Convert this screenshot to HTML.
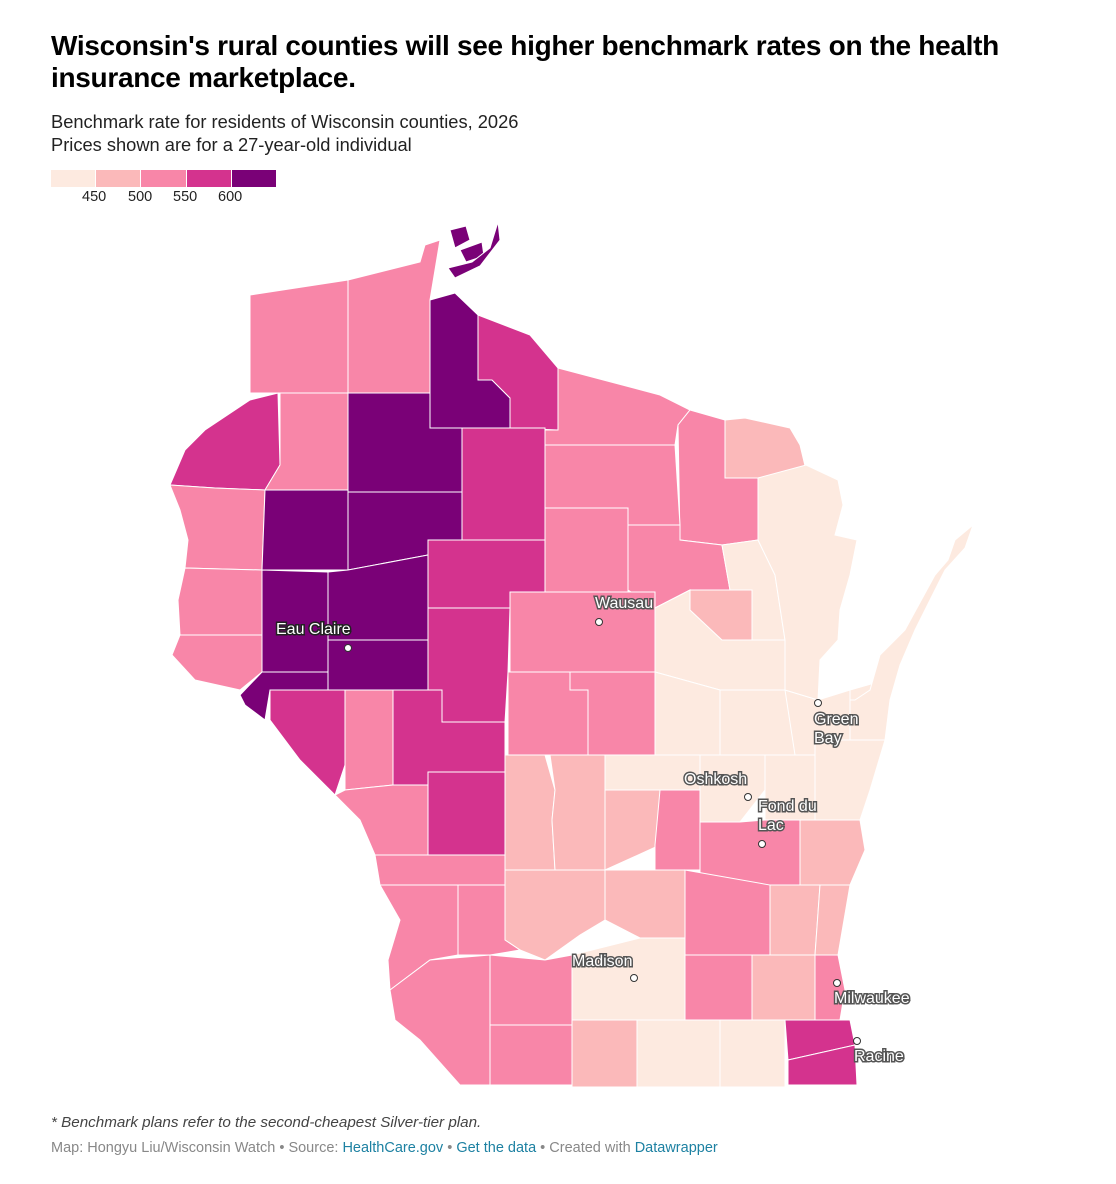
<!DOCTYPE html>
<html><head><meta charset="utf-8">
<style>
body{margin:0;background:#fff;font-family:"Liberation Sans",sans-serif;}
#wrap{position:relative;width:1116px;height:1184px;overflow:hidden;}
h1{position:absolute;left:51px;top:30px;margin:0;font-size:28px;line-height:32px;font-weight:bold;color:#000;width:1040px;letter-spacing:-0.3px}
.sub{position:absolute;left:51px;font-size:18.3px;color:#222}
.lt{position:absolute;top:189px;font-size:14.5px;color:#222}
.note{position:absolute;left:51px;top:1114px;font-size:15.2px;font-style:italic;color:#444}
.src{position:absolute;left:51px;top:1140px;font-size:14.5px;color:#888}
.src a{color:#1d81a2;text-decoration:none}
svg{position:absolute;left:0;top:0}
.city{font-size:16px;fill:#fff;stroke:#555;stroke-width:3px;paint-order:stroke;font-family:"Liberation Sans",sans-serif}
</style></head><body>
<div id="wrap">
<h1>Wisconsin's rural counties will see higher benchmark rates on the health insurance marketplace.</h1>
<div class="sub" style="top:111px">Benchmark rate for residents of Wisconsin counties, 2026</div>
<div class="sub" style="top:134px">Prices shown are for a 27-year-old individual</div>
<div>
<div style="position:absolute;left:51px;top:170px;width:44px;height:17px;background:#fdeae0"></div>
<div style="position:absolute;left:96px;top:170px;width:44px;height:17px;background:#fbb9ba"></div>
<div style="position:absolute;left:141px;top:170px;width:45px;height:17px;background:#f886a8"></div>
<div style="position:absolute;left:187px;top:170px;width:44px;height:17px;background:#d4338e"></div>
<div style="position:absolute;left:232px;top:170px;width:44px;height:17px;background:#7a0177"></div>
<div class="lt" style="left:82px">450</div>
<div class="lt" style="left:128px">500</div>
<div class="lt" style="left:173px">550</div>
<div class="lt" style="left:218px">600</div>
</div>
<svg id="map" width="1116" height="1184"></svg>
<div class="note">* Benchmark plans refer to the second-cheapest Silver-tier plan.</div>
<div class="src">Map: Hongyu Liu/Wisconsin Watch • Source: <a>HealthCare.gov</a> • <a>Get the data</a> • Created with <a>Datawrapper</a></div>
</div>
<script>
const counties=["Douglas","Bayfield","Ashland","Apostle1","Apostle2","Apostle3","Iron","Vilas","Florence","Marinette-west","Forest","Oneida","Burnett","Washburn","Sawyer","Price","Lincoln","Langlade-east","Polk","Barron","Rusk","Taylor","StCroix","Dunn","Chippewa","EauClaire","Clark","Marathon","Shawano","Menominee","Pierce","Pepin","Buffalo","Trempealeau","Jackson","Wood","Portage","Waupaca","Outagamie","Brown","Kewaunee","Oconto","Door","Manitowoc","Calumet","Winnebago","Waushara","Monroe","Juneau","Adams","Marquette","GreenLake","FondDuLac","Sheboygan","LaCrosse","Vernon","Sauk","Columbia","Dodge","Washington","Ozaukee","Crawford","Richland","Grant","Iowa","Dane","Jefferson","Waukesha","Milwaukee","Lafayette","Green","Rock","Walworth","Racine","Kenosha"];
const rates=[540,540,620,620,620,620,580,540,490,540,540,540,580,540,620,580,540,440,540,620,620,580,540,620,620,620,580,540,440,490,540,620,580,540,580,540,540,440,440,440,440,440,440,440,440,440,440,580,490,490,490,540,540,490,540,540,490,490,540,490,490,540,540,540,540,440,540,490,540,540,490,440,440,580,580];
const thresholds=[450,500,550,600];
const palette=["#fdeae0","#fbb9ba","#f886a8","#d4338e","#7a0177"];
const shapes=[
[[250,295],[348,280],[348,393],[250,393]],
[[348,280],[420,262],[425,245],[440,240],[430,300],[430,393],[348,393]],
[[430,300],[455,293],[478,315],[478,380],[492,380],[510,398],[510,428],[462,428],[430,428]],
[[450,230],[466,226],[470,240],[455,248]],
[[460,250],[482,242],[484,256],[466,262]],
[[448,268],[472,262],[490,248],[498,222],[500,240],[480,266],[455,278]],
[[478,315],[530,335],[558,368],[558,430],[510,428],[510,398],[492,380],[478,380]],
[[558,368],[660,395],[690,410],[678,425],[675,445],[545,445],[545,430],[558,430]],
[[725,420],[745,418],[790,428],[800,445],[806,470],[758,478],[725,478]],
[[690,410],[725,420],[725,478],[758,478],[758,540],[722,545],[680,540],[678,425]],
[[628,525],[680,525],[680,540],[722,545],[730,590],[690,590],[655,608],[628,590]],
[[545,445],[675,445],[680,525],[628,525],[628,508],[545,508]],
[[278,393],[250,400],[235,410],[205,430],[185,450],[170,485],[215,488],[265,490],[280,465]],
[[280,393],[348,393],[348,490],[265,490],[280,465]],
[[348,393],[430,393],[430,428],[462,428],[462,492],[348,492]],
[[462,428],[545,428],[545,540],[462,540]],
[[545,508],[628,508],[628,592],[545,592]],
[[722,545],[758,540],[775,575],[785,640],[752,640],[752,590],[730,590]],
[[170,485],[215,488],[265,490],[262,570],[185,568],[188,540],[180,510]],
[[265,490],[348,490],[348,570],[262,570]],
[[348,492],[462,492],[462,540],[428,540],[428,555],[348,570]],
[[428,540],[545,540],[545,592],[510,592],[510,608],[428,608]],
[[185,568],[262,570],[262,635],[180,635],[178,600]],
[[262,570],[328,572],[328,672],[262,672]],
[[328,572],[348,570],[428,555],[428,640],[328,640]],
[[328,640],[428,640],[428,690],[328,690]],
[[428,608],[510,608],[508,672],[505,722],[442,722],[428,690]],
[[510,592],[655,592],[655,672],[510,672]],
[[655,608],[690,590],[690,610],[722,640],[785,640],[785,690],[720,690],[655,672]],
[[690,590],[752,590],[752,640],[722,640],[690,610]],
[[180,635],[262,635],[262,672],[240,690],[195,680],[172,655]],
[[262,672],[328,672],[328,690],[270,690],[265,720],[245,705],[240,695]],
[[270,690],[345,690],[345,765],[335,795],[300,760],[270,720]],
[[345,690],[393,690],[393,785],[345,790]],
[[393,690],[442,690],[442,722],[505,722],[505,772],[428,772],[428,785],[393,785]],
[[508,672],[570,672],[570,690],[588,690],[588,755],[508,755]],
[[570,672],[655,672],[655,755],[588,755],[588,690],[570,690]],
[[655,672],[720,690],[720,755],[655,755]],
[[720,690],[785,690],[795,690],[795,755],[720,755]],
[[785,690],[818,700],[850,690],[850,740],[815,755],[795,755]],
[[850,690],[885,680],[885,740],[850,740]],
[[758,478],[806,465],[838,480],[843,505],[835,535],[857,540],[850,575],[840,610],[838,640],[820,660],[818,700],[785,690],[785,640],[775,575],[758,540]],
[[855,700],[870,690],[880,655],[905,630],[935,575],[948,560],[955,540],[973,525],[965,548],[945,570],[930,600],[915,630],[900,665],[890,700],[885,740],[850,740],[850,700]],
[[815,740],[885,740],[870,790],[860,820],[815,820]],
[[765,755],[815,755],[815,820],[765,820]],
[[700,755],[765,755],[765,790],[740,822],[700,822]],
[[605,755],[700,755],[700,790],[605,790]],
[[428,772],[505,772],[505,855],[428,855]],
[[505,755],[545,755],[555,790],[552,820],[555,870],[505,870]],
[[550,755],[605,755],[605,870],[555,870],[552,820],[555,790]],
[[605,790],[660,790],[660,845],[605,870]],
[[660,790],[700,790],[700,870],[655,870],[655,845]],
[[700,822],[740,822],[765,820],[800,820],[800,885],[700,885]],
[[800,820],[860,820],[865,850],[850,885],[800,885]],
[[335,795],[345,790],[393,785],[428,785],[428,855],[375,855],[360,820]],
[[375,855],[505,855],[505,885],[380,885]],
[[505,870],[605,870],[605,920],[580,935],[545,960],[520,950],[505,940]],
[[605,870],[685,870],[685,938],[640,938],[605,920]],
[[685,870],[770,885],[770,955],[685,955]],
[[770,885],[820,885],[815,955],[770,955]],
[[820,885],[850,885],[838,955],[815,955]],
[[380,885],[458,885],[458,955],[430,960],[390,990],[388,960],[400,920]],
[[458,885],[505,885],[505,940],[520,950],[490,955],[458,955]],
[[390,990],[430,960],[490,955],[490,1085],[460,1085],[420,1040],[395,1020]],
[[490,955],[545,960],[572,955],[572,1025],[490,1025]],
[[572,955],[640,938],[685,938],[685,1020],[572,1020]],
[[685,955],[752,955],[752,1020],[685,1020]],
[[752,955],[815,955],[815,1020],[752,1020]],
[[815,955],[838,955],[845,990],[840,1020],[815,1020]],
[[490,1025],[572,1025],[572,1085],[490,1085]],
[[572,1020],[637,1020],[637,1087],[572,1087]],
[[637,1020],[720,1020],[720,1087],[637,1087]],
[[720,1020],[785,1020],[785,1087],[720,1087]],
[[785,1020],[850,1020],[855,1045],[788,1060]],
[[788,1060],[855,1045],[857,1085],[788,1085]]
];
const cityNames=["Wausau","Eau Claire","Green Bay","Oshkosh","Fond du Lac","Madison","Milwaukee","Racine"];
const cityDots=[[599,622],[348,648],[818,703],[748,797],[762,844],[634,978],[837,983],[857,1041]];
const cityLabels=[[595,608],[276,634],[814,724],[684,784],[758,811],[572,966],[834,1003],[854,1061]];
function colorScale(v){let i=0;while(i<thresholds.length&&v>=thresholds[i])i++;return palette[i];}
const svg=document.getElementById('map');const NS="http://www.w3.org/2000/svg";
counties.forEach((c,i)=>{const p=document.createElementNS(NS,'polygon');
p.setAttribute('points',shapes[i].map(q=>q.join(',')).join(' '));
p.setAttribute('fill',colorScale(rates[i]));p.setAttribute('stroke','#fff');p.setAttribute('stroke-width','1');


svg.appendChild(p);});
cityNames.forEach((n,i)=>{const d=document.createElementNS(NS,'circle');
d.setAttribute('cx',cityDots[i][0]);d.setAttribute('cy',cityDots[i][1]);d.setAttribute('r',3.5);d.setAttribute('fill','#fff');d.setAttribute('stroke','#333');


svg.appendChild(d);
const parts=n==="Fond du Lac"?["Fond du","Lac"]:n==="Green Bay"?["Green","Bay"]:[n];
parts.forEach((t,j)=>{const tx=document.createElementNS(NS,'text');tx.setAttribute('class','city');
tx.setAttribute('x',cityLabels[i][0]);tx.setAttribute('y',cityLabels[i][1]+j*19);tx.textContent=t;
if(n==="Eau Claire"){tx.style.stroke="#222";}


svg.appendChild(tx);});});
</script>
</body></html>
